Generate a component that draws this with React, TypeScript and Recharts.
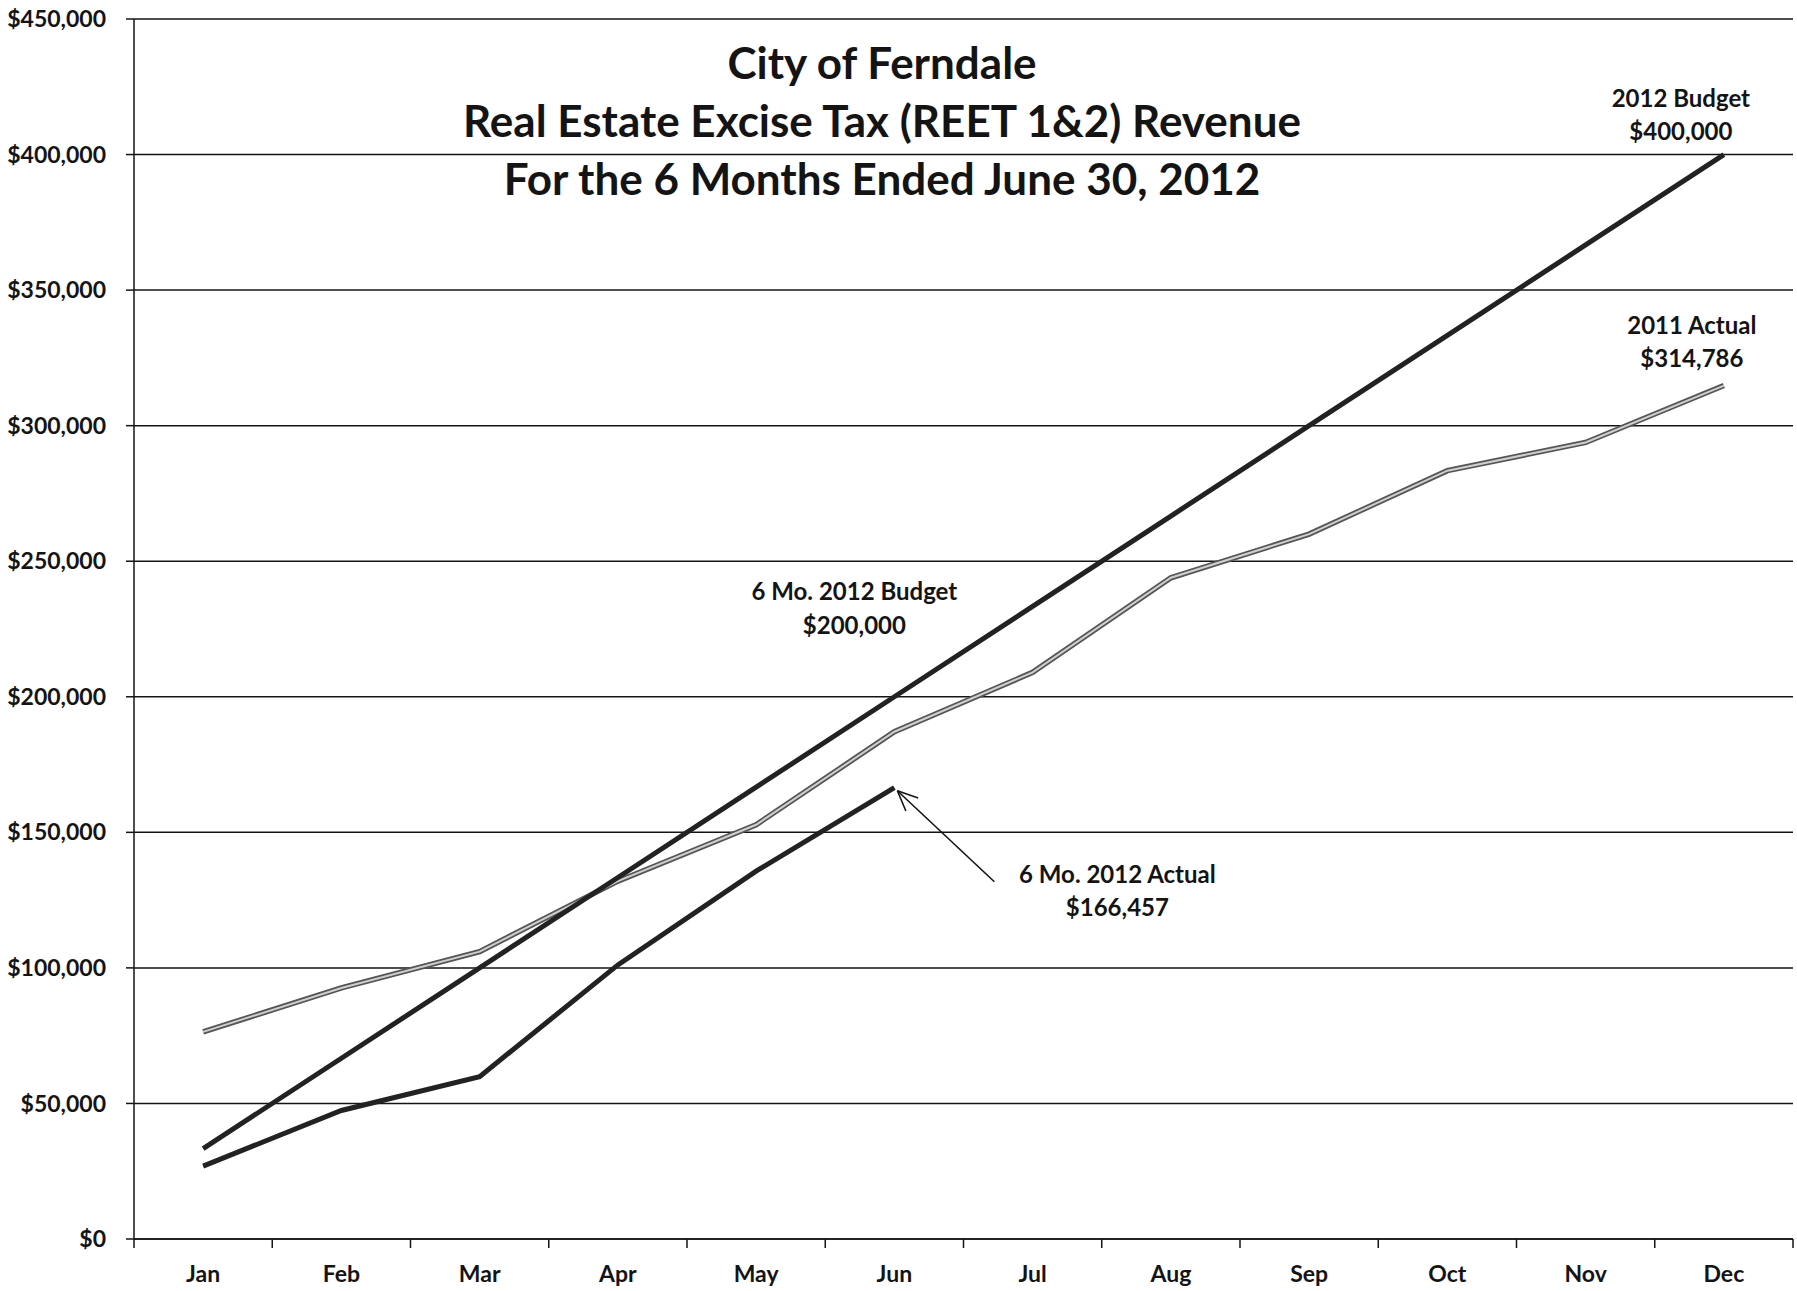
import { LineChart, Line, XAxis, YAxis, CartesianGrid, LabelList } from 'recharts'

const months = ['Jan', 'Feb', 'Mar', 'Apr', 'May', 'Jun', 'Jul', 'Aug', 'Sep', 'Oct', 'Nov', 'Dec']
const budget2012 = [33333, 66667, 100000, 133333, 166667, 200000, 233333, 266667, 300000, 333333, 366667, 400000]
const actual2011 = [76400, 92600, 106000, 132000, 152800, 187100, 209000, 243900, 260000, 283400, 293800, 314786]
const actual2012 = [26900, 47400, 59900, 101100, 135700, 166457]
const yTicks = [0, 50000, 100000, 150000, 200000, 250000, 300000, 350000, 400000, 450000]
const titleLines = [
  'City of Ferndale',
  'Real Estate Excise Tax (REET 1&2) Revenue',
  'For the 6 Months Ended June 30, 2012',
]

const data = months.map((m, i) => ({
  month: m,
  budget: budget2012[i],
  a2011: actual2011[i],
  a2012: i < actual2012.length ? actual2012[i] : null,
}))

const W = 1797
const H = 1291
const YW = 134
const RIGHT = 4
const BAND = (W - YW - RIGHT) / 12
const FONT = 'Lato, "Noto Sans", sans-serif'
const INK = '#141414'

const fmt = (v: number) => `$${v.toLocaleString('en-US')}`

function MonthTick(props: any) {
  const { x, y, payload, index } = props
  return (
    <g>
      <line x1={x - BAND / 2} x2={x - BAND / 2} y1={y - 9} y2={y} stroke={INK} strokeWidth={1.5} />
      {index === 11 && (
        <line x1={x + BAND / 2} x2={x + BAND / 2} y1={y - 9} y2={y} stroke={INK} strokeWidth={1.5} />
      )}
      <text x={x} y={y + 25} textAnchor="middle" dominantBaseline="central" fontSize={23} fontWeight={700} fill={INK} fontFamily={FONT}>
        {payload.value}
      </text>
    </g>
  )
}

// two-line annotation placed relative to a data point
function note(x: number, y: number, dx: number, dy1: number, dy2: number, l1: string, l2: string) {
  return (
    <g>
      <text x={x + dx} y={y + dy1} textAnchor="middle" dominantBaseline="central" fontSize={24} fontWeight={700} fill={INK} fontFamily={FONT}>{l1}</text>
      <text x={x + dx} y={y + dy2} textAnchor="middle" dominantBaseline="central" fontSize={24} fontWeight={700} fill={INK} fontFamily={FONT}>{l2}</text>
    </g>
  )
}

function pos(props: any) {
  const vb = props.viewBox || {}
  return [props.x ?? vb.x, props.y ?? vb.y]
}

function budgetLabel(props: any) {
  const [x, y] = pos(props)
  if (props.index === 5) return note(x, y, -40, -106, -72, '6 Mo. 2012 Budget', '$200,000')
  if (props.index === 11) return note(x, y, -43, -57, -24, '2012 Budget', '$400,000')
  return null
}

function a2011Label(props: any) {
  const [x, y] = pos(props)
  if (props.index === 11) return note(x, y, -32, -61, -28, '2011 Actual', '$314,786')
  return null
}

function a2012Label(props: any) {
  const [x, y] = pos(props)
  if (props.index !== 5) return null
  const tx = x + 100
  const ty = y + 94
  const hx = x + 3
  const hy = y + 3
  const ang = Math.atan2(hy - ty, hx - tx)
  const len = 22
  const a1 = ang + Math.PI - 0.42
  const a2 = ang + Math.PI + 0.42
  return (
    <g>
      <line x1={tx} y1={ty} x2={hx} y2={hy} stroke={INK} strokeWidth={1.6} />
      <line x1={hx} y1={hy} x2={hx + len * Math.cos(a1)} y2={hy + len * Math.sin(a1)} stroke={INK} strokeWidth={1.6} />
      <line x1={hx} y1={hy} x2={hx + len * Math.cos(a2)} y2={hy + len * Math.sin(a2)} stroke={INK} strokeWidth={1.6} />
      {note(x, y, 223, 86, 119, '6 Mo. 2012 Actual', '$166,457')}
    </g>
  )
}

export default function App() {
  return (
    <div style={{ position: 'absolute', left: 0, top: 0, width: W, height: H, background: '#fff' }}>
      <LineChart width={W} height={H} data={data} margin={{ top: 19, right: RIGHT, left: 0, bottom: 12 }}>
        <CartesianGrid vertical={false} stroke={INK} strokeWidth={1.5} />
        <XAxis
          dataKey="month"
          height={40}
          padding={{ left: BAND / 2, right: BAND / 2 }}
          tickSize={9}
          tickMargin={0}
          tickLine={false}
          axisLine={{ stroke: INK, strokeWidth: 1.5 }}
          tick={<MonthTick />}
          interval={0}
        />
        <YAxis
          width={YW}
          domain={[0, 450000]}
          ticks={yTicks}
          tickFormatter={fmt}
          tickSize={8}
          tickMargin={20}
          axisLine={{ stroke: INK, strokeWidth: 1.5 }}
          tickLine={{ stroke: INK, strokeWidth: 1.5 }}
          tick={{ fontSize: 23, fontWeight: 700, fill: INK, fontFamily: FONT }}
        />
        <Line dataKey="a2011" stroke="#555" strokeWidth={5.5} dot={false} isAnimationActive={false} />
        <Line dataKey="a2011" stroke="#cfcfcf" strokeWidth={2} dot={false} isAnimationActive={false}>
          <LabelList dataKey="a2011" content={a2011Label} />
        </Line>
        <Line dataKey="budget" stroke="#222" strokeWidth={5} dot={false} isAnimationActive={false}>
          <LabelList dataKey="budget" content={budgetLabel} />
        </Line>
        <Line dataKey="a2012" stroke="#222" strokeWidth={5} dot={false} isAnimationActive={false}>
          <LabelList dataKey="a2012" content={a2012Label} />
        </Line>
      </LineChart>
      <div
        style={{
          position: 'absolute',
          left: 0,
          top: 33,
          width: 1764,
          textAlign: 'center',
          fontFamily: FONT,
          fontWeight: 700,
          fontSize: 44,
          lineHeight: '58px',
          color: INK,
        }}
      >
        {titleLines.map((t) => (
          <div key={t}>{t}</div>
        ))}
      </div>
    </div>
  )
}
